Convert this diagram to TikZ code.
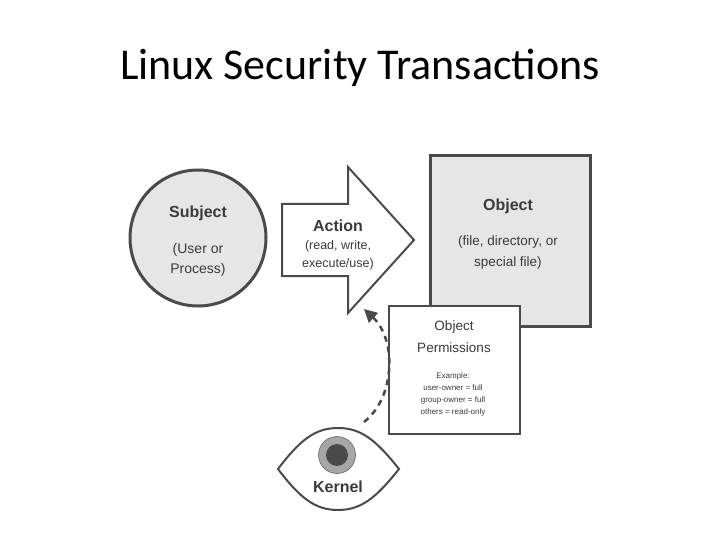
\documentclass[tikz,border=0pt]{standalone}
\usepackage{fontspec}
\setmainfont{Liberation Sans}
\newfontfamily\titlefont{Carlito}
\usetikzlibrary{arrows.meta}
\definecolor{ln}{HTML}{4A4A4A}
\definecolor{fl}{HTML}{E6E6E6}
\definecolor{tx}{HTML}{3A3A3A}
\begin{document}
\begin{tikzpicture}[x=1pt,y=-1pt,
  shp/.style={draw=ln,line width=3pt},
  lbl/.style={text=tx,align=center,font=\fontsize{14}{17}\selectfont},
  bold/.style={text=tx,font=\bfseries\fontsize{16}{19}\selectfont}]
\useasboundingbox (0,0) rectangle (720,540);
\node[font=\titlefont\fontsize{44}{52}\selectfont] (title) at (360,68) {Linux Security Transactions};
% subject
\node[shp,fill=fl,circle,minimum size=136pt] (subj) at (198,238) {};
\node[bold] (subjt) at (198,213) {Subject};
\node[lbl] (subjs) at (198,260) {(User or\\[3pt]Process)};
% action arrow
\draw[draw=ln,line width=2pt,fill=white,line join=miter] (282,204) -- (348,204) -- (348,167) -- (414,240) -- (348,313) -- (348,276) -- (282,276) -- cycle;
\node[bold] (act) at (338,226) {Action};
\node[lbl,font=\fontsize{12.5}{18}\selectfont] (acts) at (338,255) {(read, write,\\execute/use)};
% object
\node[shp,fill=fl,minimum width=160pt,minimum height=170pt] (obj) at (510,241) {};
\node[bold] (objt) at (508,206) {Object};
\node[lbl,font=\fontsize{13.5}{21}\selectfont] (objs) at (508,253) {(file, directory, or\\special file)};
% permissions
\node[draw=ln,line width=2pt,fill=white,minimum width=131pt,minimum height=128pt] (perm) at (454.5,370) {};
\node[lbl,font=\fontsize{13.5}{22}\selectfont] (permt) at (454,337) {Object\\Permissions};
\node[lbl,font=\fontsize{8}{12}\selectfont] (perms) at (453,394) {Example:\\user-owner = full\\group-owner = full\\others = read-only};
% eye
\draw[draw=ln,line width=2pt,fill=white] (278,469) .. controls (300,440) and (315,428) .. (338,428)
  .. controls (361,428) and (376,440) .. (399,469) .. controls (376,498) and (361,510) .. (338,510)
  .. controls (315,510) and (300,498) .. (278,469) -- cycle;
\node[circle,fill=gray!70!white,draw=gray!80!black,line width=0.6pt,minimum size=37pt] (iris) at (337,455) {};
\node[circle,fill=ln,minimum size=22pt,inner sep=0pt] (pupil) at (iris) {};
\node[bold] (kern) at (338,487) {Kernel};
\coordinate (k1) at (364,422);
\coordinate (k2) at (364,309);
\draw[ln,line width=2.5pt,dash pattern=on 6pt off 5pt,-{Triangle[length=13pt,width=13pt]}]
  (k1) .. controls (395,398) and (397,340) .. (k2);
\end{tikzpicture}
\end{document}
